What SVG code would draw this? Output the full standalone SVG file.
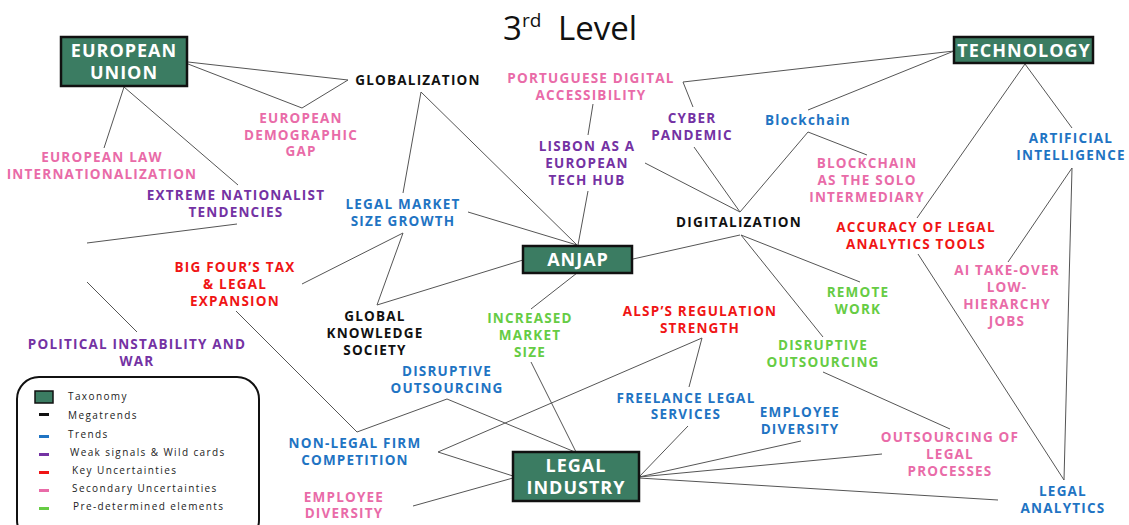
<svg xmlns="http://www.w3.org/2000/svg" width="1129" height="525" viewBox="0 0 1129 525">
  <style>
    .lbl { font-family: "Open Sans", "Liberation Sans", sans-serif; font-weight: 700; font-size: 13.5px; letter-spacing: 1.2px; text-anchor: middle; }
    .box { fill: #3b7c62; stroke: #111; stroke-width: 2.5; }
    .boxtxt { font-family: "Open Sans", "Liberation Sans", sans-serif; font-weight: 700; font-size: 18px; letter-spacing: 1px; fill: #fff; text-anchor: middle; }
    .mega { fill: #111; }
    .trend { fill: #1f74c3; }
    .weak { fill: #7432a3; }
    .key { fill: #f01515; }
    .sec { fill: #e96ba8; }
    .pre { fill: #66cc44; }
    .conn line, .conn polyline { stroke: #555; stroke-width: 1; fill: none; }
    .leg { font-family: "Open Sans", "Liberation Sans", sans-serif; font-size: 10px; letter-spacing: 1.4px; fill: #222; }
  </style>

  <rect width="1129" height="525" fill="#fff"/>

  <!-- title -->
  <text x="503" y="40" font-family="Open Sans, Liberation Sans, sans-serif" font-size="33" fill="#111">3<tspan dy="-13" font-size="19">rd</tspan><tspan x="558" dy="13">Level</tspan></text>

  <!-- connectors -->
  <g id="connectors" class="conn">
    <line x1="188" y1="62" x2="348" y2="80"/>
    <line x1="188" y1="64" x2="302" y2="108"/>
    <line x1="302" y1="108" x2="348" y2="80"/>
    <line x1="124" y1="87" x2="104" y2="148"/>
    <line x1="124" y1="87" x2="238" y2="185"/>
    <line x1="237" y1="224" x2="87" y2="243"/>
    <line x1="87" y1="282" x2="137" y2="332"/>
    <line x1="421" y1="92" x2="403" y2="193"/>
    <line x1="421" y1="92" x2="577" y2="245"/>
    <line x1="468" y1="212" x2="577" y2="245"/>
    <line x1="588" y1="191" x2="578" y2="245"/>
    <line x1="593" y1="104" x2="588" y2="135"/>
    <line x1="645" y1="163" x2="740" y2="212"/>
    <line x1="694" y1="147" x2="740" y2="212"/>
    <line x1="683" y1="82" x2="954" y2="51"/>
    <line x1="683" y1="82" x2="693" y2="107"/>
    <line x1="808" y1="110" x2="954" y2="51"/>
    <line x1="808" y1="132" x2="740" y2="212"/>
    <line x1="808" y1="132" x2="867" y2="155"/>
    <line x1="1025" y1="64" x2="917" y2="218"/>
    <line x1="1025" y1="64" x2="1072" y2="128"/>
    <line x1="1072" y1="168" x2="1008" y2="262"/>
    <line x1="1072" y1="168" x2="1064" y2="480"/>
    <line x1="918" y1="254" x2="1064" y2="480"/>
    <line x1="740" y1="235" x2="633" y2="259"/>
    <line x1="741" y1="235" x2="860" y2="282"/>
    <line x1="741" y1="235" x2="823" y2="337"/>
    <line x1="823" y1="372" x2="950" y2="429"/>
    <line x1="523" y1="260" x2="377" y2="305"/>
    <line x1="403" y1="233" x2="377" y2="305"/>
    <line x1="403" y1="233" x2="302" y2="284"/>
    <line x1="236" y1="311" x2="357" y2="432"/>
    <line x1="357" y1="432" x2="447" y2="399"/>
    <line x1="447" y1="399" x2="575" y2="452"/>
    <line x1="577" y1="273" x2="531" y2="309"/>
    <line x1="531" y1="362" x2="576" y2="452"/>
    <line x1="702" y1="338" x2="438" y2="452"/>
    <line x1="438" y1="452" x2="513" y2="476"/>
    <line x1="702" y1="338" x2="689" y2="387"/>
    <line x1="688" y1="426" x2="639" y2="477"/>
    <line x1="639" y1="477" x2="801" y2="441"/>
    <line x1="639" y1="477" x2="882" y2="454"/>
    <line x1="639" y1="478" x2="998" y2="500"/>
    <line x1="513" y1="478" x2="413" y2="506"/>
  </g>

  <!-- taxonomy boxes -->
  <g id="european-union">
    <rect class="box" x="61" y="37" width="126" height="49"/>
    <text class="boxtxt" x="124" y="57">EUROPEAN</text>
    <text class="boxtxt" x="124" y="79">UNION</text>
  </g>
  <g id="technology">
    <rect class="box" x="954" y="37" width="139" height="26"/>
    <text class="boxtxt" x="1024" y="57">TECHNOLOGY</text>
  </g>
  <g id="anjap">
    <rect class="box" x="523" y="246" width="109" height="27"/>
    <text class="boxtxt" x="578" y="266">ANJAP</text>
  </g>
  <g id="legal-industry">
    <rect class="box" x="513" y="452" width="126" height="49"/>
    <text class="boxtxt" x="576" y="472">LEGAL</text>
    <text class="boxtxt" x="576" y="494">INDUSTRY</text>
  </g>

  <!-- factor labels -->
  <g id="globalization"><text class="lbl mega" x="418" y="85">GLOBALIZATION</text></g>
  <g id="european-demographic-gap"><text class="lbl sec" x="301" y="123">EUROPEAN</text><text class="lbl sec" x="301" y="140">DEMOGRAPHIC</text><text class="lbl sec" x="301" y="156">GAP</text></g>
  <g id="european-law"><text class="lbl sec" x="102" y="162">EUROPEAN LAW</text><text class="lbl sec" x="102" y="179">INTERNATIONALIZATION</text></g>
  <g id="extreme-nationalist"><text class="lbl weak" x="236" y="200">EXTREME NATIONALIST</text><text class="lbl weak" x="236" y="217">TENDENCIES</text></g>
  <g id="political-instability"><text class="lbl weak" x="137" y="349">POLITICAL INSTABILITY AND</text><text class="lbl weak" x="137" y="366">WAR</text></g>
  <g id="legal-market-size-growth"><text class="lbl trend" x="403" y="209">LEGAL MARKET</text><text class="lbl trend" x="403" y="226">SIZE GROWTH</text></g>
  <g id="big-four"><text class="lbl key" x="235" y="272">BIG FOUR’S TAX</text><text class="lbl key" x="235" y="289">&amp; LEGAL</text><text class="lbl key" x="235" y="306">EXPANSION</text></g>
  <g id="global-knowledge-society"><text class="lbl mega" x="375" y="321">GLOBAL</text><text class="lbl mega" x="375" y="338">KNOWLEDGE</text><text class="lbl mega" x="375" y="355">SOCIETY</text></g>
  <g id="portuguese-digital"><text class="lbl sec" x="591" y="83">PORTUGUESE DIGITAL</text><text class="lbl sec" x="591" y="100">ACCESSIBILITY</text></g>
  <g id="lisbon-tech-hub"><text class="lbl weak" x="587" y="151">LISBON AS A</text><text class="lbl weak" x="587" y="168">EUROPEAN</text><text class="lbl weak" x="587" y="185">TECH HUB</text></g>
  <g id="cyber-pandemic"><text class="lbl weak" x="692" y="123">CYBER</text><text class="lbl weak" x="692" y="140">PANDEMIC</text></g>
  <g id="blockchain"><text class="lbl trend" x="808" y="125">Blockchain</text></g>
  <g id="blockchain-solo"><text class="lbl sec" x="867" y="168">BLOCKCHAIN</text><text class="lbl sec" x="867" y="185">AS THE SOLO</text><text class="lbl sec" x="867" y="202">INTERMEDIARY</text></g>
  <g id="digitalization"><text class="lbl mega" x="739" y="227">DIGITALIZATION</text></g>
  <g id="accuracy-legal-analytics"><text class="lbl key" x="916" y="232">ACCURACY OF LEGAL</text><text class="lbl key" x="916" y="249">ANALYTICS TOOLS</text></g>
  <g id="artificial-intelligence"><text class="lbl trend" x="1071" y="143">ARTIFICIAL</text><text class="lbl trend" x="1071" y="160">INTELLIGENCE</text></g>
  <g id="ai-take-over"><text class="lbl sec" x="1007" y="275">AI TAKE-OVER</text><text class="lbl sec" x="1007" y="292">LOW-</text><text class="lbl sec" x="1007" y="309">HIERARCHY</text><text class="lbl sec" x="1007" y="326">JOBS</text></g>
  <g id="remote-work"><text class="lbl pre" x="858" y="297">REMOTE</text><text class="lbl pre" x="858" y="314">WORK</text></g>
  <g id="disruptive-outsourcing-pre"><text class="lbl pre" x="823" y="350">DISRUPTIVE</text><text class="lbl pre" x="823" y="367">OUTSOURCING</text></g>
  <g id="alsp-regulation"><text class="lbl key" x="700" y="316">ALSP’S REGULATION</text><text class="lbl key" x="700" y="333">STRENGTH</text></g>
  <g id="increased-market-size"><text class="lbl pre" x="530" y="323">INCREASED</text><text class="lbl pre" x="530" y="340">MARKET</text><text class="lbl pre" x="530" y="357">SIZE</text></g>
  <g id="disruptive-outsourcing-trend"><text class="lbl trend" x="447" y="376">DISRUPTIVE</text><text class="lbl trend" x="447" y="393">OUTSOURCING</text></g>
  <g id="freelance-legal"><text class="lbl trend" x="686" y="403">FREELANCE LEGAL</text><text class="lbl trend" x="686" y="419">SERVICES</text></g>
  <g id="employee-diversity-trend"><text class="lbl trend" x="800" y="417">EMPLOYEE</text><text class="lbl trend" x="800" y="434">DIVERSITY</text></g>
  <g id="outsourcing-legal-processes"><text class="lbl sec" x="950" y="442">OUTSOURCING OF</text><text class="lbl sec" x="950" y="459">LEGAL</text><text class="lbl sec" x="950" y="476">PROCESSES</text></g>
  <g id="legal-analytics"><text class="lbl trend" x="1063" y="496">LEGAL</text><text class="lbl trend" x="1063" y="513">ANALYTICS</text></g>
  <g id="non-legal-competition"><text class="lbl trend" x="355" y="448">NON-LEGAL FIRM</text><text class="lbl trend" x="355" y="465">COMPETITION</text></g>
  <g id="employee-diversity-sec"><text class="lbl sec" x="344" y="502">EMPLOYEE</text><text class="lbl sec" x="344" y="518">DIVERSITY</text></g>

  <!-- legend -->
  <g id="legend">
    <rect x="17" y="377" width="242" height="165" rx="22" fill="#fff" stroke="#111" stroke-width="2"/>
    <rect x="35" y="391" width="18" height="12" fill="#3b7c62" stroke="#111" stroke-width="1.5"/>
    <text class="leg" x="68" y="400">Taxonomy</text>
    <rect x="39" y="413" width="10" height="3" class="mega"/>
    <text class="leg" x="68" y="419">Megatrends</text>
    <rect x="39" y="435" width="10" height="3" class="trend"/>
    <text class="leg" x="68" y="438">Trends</text>
    <rect x="39" y="453" width="10" height="3" class="weak"/>
    <text class="leg" x="70" y="456">Weak signals &amp; Wild cards</text>
    <rect x="39" y="471" width="10" height="3" class="key"/>
    <text class="leg" x="72" y="474">Key Uncertainties</text>
    <rect x="39" y="489" width="10" height="3" class="sec"/>
    <text class="leg" x="72" y="492">Secondary Uncertainties</text>
    <rect x="39" y="507" width="10" height="3" class="pre"/>
    <text class="leg" x="73" y="510">Pre-determined elements</text>
  </g>
</svg>
